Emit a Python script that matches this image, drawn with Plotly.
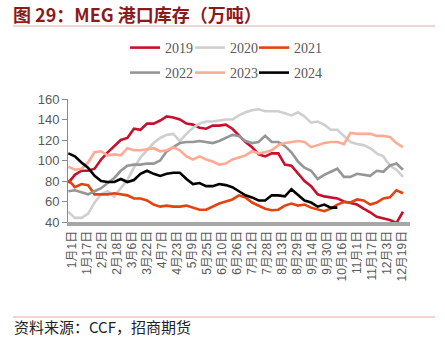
import pandas as pd
import plotly.graph_objects as go

# Weekly MEG port inventory (10k tonnes), plotted on a common calendar
years = ["2019", "2020", "2021", "2022", "2023", "2024"]
colors = ["#C8102E", "#CFCFCF", "#E5420F", "#969696", "#FFAA92", "#000000"]

v2019 = [78, 86, 90, 90, 92, 101, 108, 114, 120, 122, 131, 130, 136, 136, 139, 143, 142, 140, 136,
         135, 132, 131, 134, 134, 135, 131, 125, 118, 113, 106, 104, 107, 107, 96, 95, 88, 80, 75,
         67, 65, 64, 63, 60, 58.5, 57, 53, 49.5, 45, 43.5, 42, 39, 50]
v2020 = [50, 44, 44, 48, 59, 67, 70, 65, 73, 81, 93, 103, 110, 117, 122, 125, 126, 119, 126, 132,
         136, 138, 138, 139, 140, 140, 144, 147, 149, 150, 148, 148, 148, 146, 144, 147, 143, 137,
         138, 135, 130, 130, 124, 118, 116, 115, 112, 107, 104, 95, 91, 84]
v2021 = [81, 74, 77, 76, 67, 67, 67, 68, 67, 66, 63, 63, 61, 57, 55, 56, 55, 55, 56, 54, 52, 52,
         55, 58, 60, 62, 66, 64, 59, 56, 53, 51.5, 52, 56, 58, 56, 57, 54, 52, 50.5, 53, 57, 59.5,
         59, 62, 61, 57, 59, 63, 64, 71, 68]
v2022 = [70, 71, 69, 67, 70, 73, 78, 83, 90, 95, 96, 96, 97, 97, 100, 109, 113, 117, 118, 118,
         119, 118, 117, 119, 122, 125, 124, 119, 117, 118, 124, 118, 118, 114, 108, 99, 93, 90, 82,
         86, 89, 92, 84, 84, 87, 86, 85, 90, 89, 95, 97, 91]
v2023 = [94, 91, 92, 98, 108, 109, 105, 106, 105, 112, 110, 110, 111, 112, 109, 110, 113, 110,
         104, 101, 104, 101, 99, 96, 97, 101, 103, 105, 109, 107, 108, 110, 115, 117, 118, 119, 118,
         113, 115, 117, 118, 118, 116, 127, 126, 126, 126, 124, 124, 123, 117, 113]
v2024 = [107, 104, 98, 93, 85, 80, 79, 79, 82, 79, 81, 87, 90, 87, 85, 87, 88, 88, 82, 77, 78, 75,
         75, 77, 76, 74, 70, 66, 64, 61, 61, 66, 66, 65, 72, 66, 61, 59, 55, 57, 54, 54]
series = [v2019, v2020, v2021, v2022, v2023, v2024]

tick_dates = pd.date_range("2019-01-01", periods=23, freq="16D")
tick_text = [f"{d.month}月{d.day}日" for d in tick_dates]
week_dates = pd.date_range("2018-12-28", periods=52, freq="7D")

W, H = 445, 341
L, R, T, B = 68, 35, 99, 119
pw, ph = W - L - R, H - T - B


def px_x(x):
    return (x - L) / pw


def px_y(y):
    return (H - B - y) / ph


# one small legend per series, laid out as a 3 x 2 grid above the plot
legend_cols = [125, 190, 254]
legend_rows = [48, 73]

fig = go.Figure()
layout_legends = {}
for i, (name, vals, col) in enumerate(zip(years, series, colors)):
    key = "legend" if i == 0 else f"legend{i + 1}"
    fig.add_trace(go.Scatter(
        x=week_dates[:len(vals)], y=vals, name=name, mode="lines",
        line=dict(color=col, width=2.6),
        legend=key,
    ))
    layout_legends[key] = dict(
        x=px_x(legend_cols[i % 3]), y=px_y(legend_rows[i // 3]),
        xanchor="left", yanchor="middle", orientation="h",
        font=dict(family="Liberation Serif, Times New Roman, serif", size=14, color="#595959"),
        itemwidth=30, bgcolor="rgba(0,0,0,0)",
    )

fig.update_layout(
    width=W, height=H,
    margin=dict(l=L, r=R, t=T, b=B),
    paper_bgcolor="white", plot_bgcolor="white",
    showlegend=True,
    xaxis=dict(
        type="date",
        range=["2018-12-27 16:00", "2019-12-27 12:00"],
        tickvals=tick_dates, ticktext=tick_text, tickangle=-90,
        tickfont=dict(family="Liberation Sans, Arial, Noto Sans CJK SC", size=12, color="#595959"),
        showgrid=False, zeroline=False,
        showline=True, linecolor="#A6A6A6", linewidth=4,
        ticks="",
    ),
    yaxis=dict(
        range=[40, 160], tickvals=[40, 60, 80, 100, 120, 140, 160],
        tickfont=dict(family="Liberation Sans, Arial", size=13, color="#595959"),
        showgrid=False, zeroline=False,
        showline=True, linecolor="#898989", linewidth=1,
        ticks="outside", ticklen=5, tickcolor="#898989",
    ),
    **layout_legends,
)

# Heading, source note and their rules
fig.add_annotation(
    text="图 29：MEG 港口库存（万吨）", xref="paper", yref="paper",
    x=px_x(11), y=px_y(14), xanchor="left", yanchor="middle", showarrow=False,
    font=dict(family="Noto Sans CJK SC", size=18, color="#8B1A1A", weight="bold"),
)
fig.add_annotation(
    text="资料来源：CCF，招商期货", xref="paper", yref="paper",
    x=px_x(12), y=px_y(326), xanchor="left", yanchor="middle", showarrow=False,
    font=dict(family="Noto Sans CJK SC", size=15, color="#222222"),
)
for yy in (26, 317):
    fig.add_shape(type="line", xref="paper", yref="paper",
                  x0=px_x(13), x1=px_x(435), y0=px_y(yy), y1=px_y(yy),
                  line=dict(color="#E3A8A8", width=1.2))

fig.write_html("out.html")
